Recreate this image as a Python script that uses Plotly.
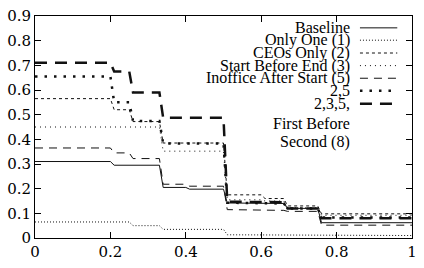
import plotly.graph_objects as go

# ---- data ----
x_pts = [0, 0.2, 0.21, 0.25, 0.26, 0.33, 0.34, 0.4, 0.41, 0.5, 0.51, 0.6, 0.61, 0.66, 0.67, 0.75, 0.76, 1.0]
baseline = [0.31, 0.31, 0.295, 0.295, 0.295, 0.295, 0.205, 0.205, 0.198, 0.198, 0.142, 0.142, 0.14, 0.14, 0.12, 0.12, 0.062, 0.062]
only_one = [0.065, 0.065, 0.065, 0.065, 0.05, 0.05, 0.035, 0.035, 0.035, 0.035, 0.013, 0.013, 0.013, 0.013, 0.012, 0.012, 0.01, 0.01]
ceos_only = [0.565, 0.565, 0.52, 0.52, 0.472, 0.472, 0.385, 0.385, 0.385, 0.385, 0.175, 0.175, 0.16, 0.16, 0.13, 0.13, 0.098, 0.098]
start_before_end = [0.45, 0.45, 0.45, 0.45, 0.45, 0.45, 0.352, 0.352, 0.352, 0.352, 0.155, 0.155, 0.15, 0.15, 0.122, 0.122, 0.092, 0.092]
inoffice_after = [0.365, 0.365, 0.345, 0.345, 0.322, 0.322, 0.218, 0.218, 0.21, 0.21, 0.115, 0.115, 0.112, 0.112, 0.108, 0.108, 0.052, 0.052]
two_five = [0.655, 0.655, 0.55, 0.55, 0.474, 0.474, 0.383, 0.383, 0.383, 0.383, 0.143, 0.143, 0.14, 0.14, 0.12, 0.12, 0.083, 0.083]
all_four = [0.71, 0.71, 0.675, 0.675, 0.59, 0.59, 0.487, 0.487, 0.487, 0.487, 0.147, 0.147, 0.145, 0.145, 0.12, 0.12, 0.08, 0.08]

labels = ["Baseline", "Only One (1)", "CEOs Only (2)", "Start Before End (3)",
          "Inoffice After Start (5)", "2,5", "2,3,5,"]
extra_label_lines = ["First Before", "Second (8)"]
x_ticks = [0, 0.2, 0.4, 0.6, 0.8, 1]
x_tick_text = ["0", "0.2", "0.4", "0.6", "0.8", "1"]
y_ticks = [0, 0.1, 0.2, 0.3, 0.4, 0.5, 0.6, 0.7, 0.8, 0.9]
y_tick_text = ["0", "0.1", "0.2", "0.3", "0.4", "0.5", "0.6", "0.7", "0.8", "0.9"]

series = [baseline, only_one, ceos_only, start_before_end, inoffice_after, two_five, all_four]
styles = [
    dict(width=1, dash="solid"),
    dict(width=1, dash="1px,2px"),
    dict(width=1, dash="3px,3px"),
    dict(width=1, dash="1px,4px"),
    dict(width=1, dash="8px,6px"),
    dict(width=2.5, dash="2.5px,7px"),
    dict(width=2.5, dash="12px,8px"),
]
color = "#111111"
FONT_A = "Liberation Serif"
FONT_B = "DejaVu Serif"

fig = go.Figure()
for name, ys, st in zip(labels, series, styles):
    fig.add_trace(go.Scatter(x=x_pts, y=ys, mode="lines", name=name,
                             line=dict(color=color, width=st["width"], dash=st["dash"]),
                             showlegend=False))

W, H = 424, 268
ml, mr, mt, mb = 33, 7, 10, 24
pw, ph = W - ml - mr, H - mt - mb

def px_x(p):
    return (p - ml) / pw

def px_y(p):
    return (H - mb - p) / ph

legend_rows = [22.5, 35.5, 49.0, 62.3, 75.6, 88.8, 102.5]
text_right = 355
for lab, yrow, st in zip(labels, legend_rows, styles):
    fig.add_annotation(x=px_x(text_right), y=px_y(yrow), xref="paper", yref="paper",
                       text=lab, showarrow=False, xanchor="right", yanchor="middle",
                       borderpad=0,
                       font=dict(family=FONT_A, size=16, color="black"))
    fig.add_shape(type="line", xref="paper", yref="paper",
                  x0=px_x(364), x1=px_x(402), y0=px_y(yrow), y1=px_y(yrow),
                  line=dict(color=color, width=st["width"], dash=st["dash"]))
for lab, yrow in zip(extra_label_lines, [123.5, 142.5]):
    fig.add_annotation(x=px_x(text_right), y=px_y(yrow), xref="paper", yref="paper",
                       text=lab, showarrow=False, xanchor="right", yanchor="middle",
                       borderpad=0,
                       font=dict(family=FONT_A, size=16, color="black"))

axis_common = dict(showline=True, linecolor="black", linewidth=1, mirror="ticks",
                   ticks="inside", ticklen=6, tickcolor="black", showgrid=False,
                   zeroline=False, tickfont=dict(family=FONT_B, size=15, color="black"))
fig.update_xaxes(range=[0, 1], tickvals=x_ticks, ticktext=x_tick_text, **axis_common)
fig.update_yaxes(range=[0, 0.9], tickvals=y_ticks, ticktext=y_tick_text, **axis_common)

fig.update_layout(width=W, height=H, margin=dict(l=ml, r=mr, t=mt, b=mb),
                  paper_bgcolor="white", plot_bgcolor="white", showlegend=False)

fig.write_html("out.html")
